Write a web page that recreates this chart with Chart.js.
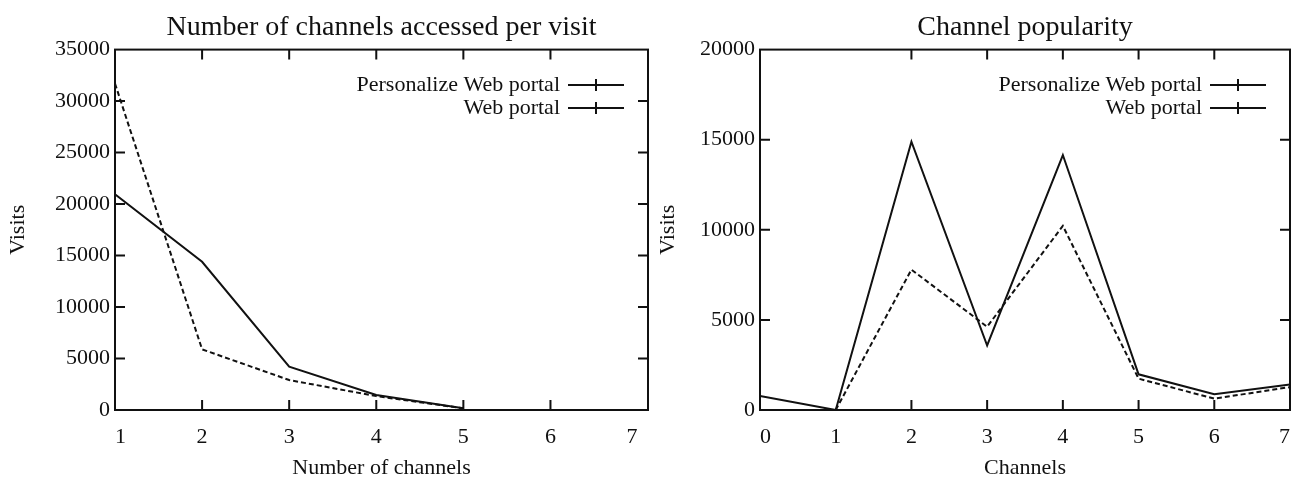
<!DOCTYPE html>
<html>
<head>
<meta charset="utf-8">
<script src="https://cdn.jsdelivr.net/npm/chart.js@4/dist/chart.umd.min.js"></script>
<style>
  html, body { margin: 0; padding: 0; background: #fff; }
  #wrap { position: relative; width: 1292px; height: 485px; overflow: hidden; }
  #perVisit { position: absolute; left: 0; top: 0; }
  #popularity { position: absolute; left: 650px; top: 0; }
</style>
</head>
<body>
<div id="wrap">
  <canvas id="perVisit" width="650" height="485"></canvas>
  <canvas id="popularity" width="642" height="485"></canvas>
</div>
<script>
// Number of channels accessed in a single visit
const channelCounts = [1, 2, 3, 4, 5];
const perVisitPersonalized = [20960, 14390, 4200, 1450, 160];
const perVisitPortal = [31700, 5890, 2910, 1350, 160];

// Visits per channel
const channelIds = [0, 1, 2, 3, 4, 5, 6, 7];
const popularityPersonalized = [775, 0, 14890, 3580, 14150, 1980, 870, 1420];
const popularityPortal = [null, 0, 7790, 4620, 10220, 1740, 630, 1270];

// Axis ticks
const countTicks = [1, 2, 3, 4, 5, 6, 7];
const channelTicks = [0, 1, 2, 3, 4, 5, 6, 7];
const perVisitTicks = [0, 5000, 10000, 15000, 20000, 25000, 30000, 35000];
const popularityTicks = [0, 5000, 10000, 15000, 20000];
const seriesNames = ['Personalize Web portal', 'Web portal'];

const SERIF = '"Liberation Serif", "Times New Roman", Times, serif';
const INK = '#111';

// gnuplot-style box: full frame, inward tick marks on all four sides, key in the top-right corner
const gnuFrame = {
  id: 'gnuFrame',
  afterDatasetsDraw(chart, args, opts) {
    const { ctx, chartArea: a } = chart;
    const xs = chart.scales.x, ys = chart.scales.y;
    ctx.save();
    ctx.strokeStyle = INK;
    ctx.lineWidth = 2;
    ctx.setLineDash([]);
    ctx.strokeRect(a.left, a.top, a.right - a.left, a.bottom - a.top);
    const len = 10;
    ctx.beginPath();
    opts.xMarks.forEach(v => {
      const px = xs.getPixelForValue(v);
      ctx.moveTo(px, a.bottom); ctx.lineTo(px, a.bottom - len);
      ctx.moveTo(px, a.top); ctx.lineTo(px, a.top + len);
    });
    opts.yMarks.forEach(v => {
      const py = ys.getPixelForValue(v);
      ctx.moveTo(a.left, py); ctx.lineTo(a.left + len, py);
      ctx.moveTo(a.right, py); ctx.lineTo(a.right - len, py);
    });
    ctx.stroke();
    ctx.restore();
  },
  afterDraw(chart, args, opts) {
    const { ctx, chartArea: a } = chart;
    const sampleEnd = a.right - 24;
    const sampleStart = sampleEnd - 56;
    const textRight = sampleStart - 8;
    ctx.save();
    ctx.font = '22px ' + SERIF;
    ctx.fillStyle = INK;
    ctx.strokeStyle = INK;
    ctx.lineWidth = 2;
    ctx.textAlign = 'right';
    ctx.textBaseline = 'middle';
    chart.data.datasets.forEach((ds, i) => {
      const y = opts.keyTop + i * 23;
      ctx.fillText(ds.label, textRight, y);
      const mid = (sampleStart + sampleEnd) / 2;
      ctx.beginPath();
      ctx.moveTo(sampleStart, y); ctx.lineTo(sampleEnd, y);
      ctx.moveTo(mid, y - 6); ctx.lineTo(mid, y + 6);
      ctx.stroke();
    });
    ctx.restore();
  }
};

function series(xs, ys, label, dash) {
  return {
    label,
    data: xs.map((x, i) => ({ x, y: ys[i] })),
    borderColor: INK,
    borderWidth: 2,
    borderDash: dash,
    pointRadius: 0,
    tension: 0,
    fill: false,
    spanGaps: false
  };
}

function makeChart(el, cfg) {
  return new Chart(el, {
    type: 'line',
    data: {
      datasets: [
        series(cfg.xs, cfg.a, seriesNames[0], []),
        series(cfg.xs, cfg.b, seriesNames[1], [5, 3])
      ]
    },
    options: {
      responsive: false,
      animation: false,
      devicePixelRatio: 1,
      layout: { padding: { left: 0, right: 2, top: 0, bottom: 0 } },
      plugins: {
        legend: { display: false },
        tooltip: { enabled: false },
        title: {
          display: true,
          text: cfg.title,
          fullSize: false,
          color: INK,
          font: { family: SERIF, size: 28, weight: 'normal' },
          padding: { top: 11, bottom: 5 }
        },
        gnuFrame: { xMarks: cfg.xMarks, yMarks: cfg.yMarks, keyTop: 85 }
      },
      scales: {
        x: {
          type: 'linear',
          min: cfg.xMin,
          max: cfg.xMax,
          grid: { display: false, drawTicks: false },
          border: { display: false },
          afterBuildTicks: s => { s.ticks = cfg.xTicks.map(v => ({ value: v })); },
          afterFit: s => { s.height = 75; s.paddingLeft = 0; s.paddingRight = 0; },
          ticks: {
            align: 'inner',
            padding: 14,
            color: INK,
            autoSkip: false,
            maxRotation: 0,
            font: { family: SERIF, size: 22 },
            callback: v => String(v)
          },
          title: {
            display: true,
            text: cfg.xTitle,
            color: INK,
            font: { family: SERIF, size: 22 },
            padding: { top: 0, bottom: 4 }
          }
        },
        y: {
          type: 'linear',
          min: 0,
          max: cfg.yMax,
          grid: { display: false, drawTicks: false },
          border: { display: false },
          afterBuildTicks: s => { s.ticks = cfg.yTicks.map(v => ({ value: v })); },
          afterFit: s => { s.width = cfg.yWidth; s.paddingTop = 0; s.paddingBottom = 0; },
          ticks: {
            padding: 5,
            color: INK,
            autoSkip: false,
            font: { family: SERIF, size: 22 },
            callback: v => String(v)
          },
          title: {
            display: true,
            text: 'Visits',
            color: INK,
            font: { family: SERIF, size: 22 },
            padding: { top: 5, bottom: 0 }
          }
        }
      }
    },
    plugins: [gnuFrame]
  });
}

makeChart(document.getElementById('perVisit'), {
  title: 'Number of channels accessed per visit',
  xTitle: 'Number of channels',
  xs: channelCounts,
  a: perVisitPersonalized,
  b: perVisitPortal,
  xMin: 1,
  xMax: 7.12,
  xTicks: countTicks,
  xMarks: countTicks.slice(1, -1),
  yMax: 35000,
  yTicks: perVisitTicks,
  yMarks: perVisitTicks.slice(1, -1),
  yWidth: 115
});

makeChart(document.getElementById('popularity'), {
  title: 'Channel popularity',
  xTitle: 'Channels',
  xs: channelIds,
  a: popularityPersonalized,
  b: popularityPortal,
  xMin: 0,
  xMax: 7,
  xTicks: channelTicks,
  xMarks: channelTicks.slice(2, -1),
  yMax: 20000,
  yTicks: popularityTicks,
  yMarks: popularityTicks.slice(1, -1),
  yWidth: 110
});
</script>
</body>
</html>
